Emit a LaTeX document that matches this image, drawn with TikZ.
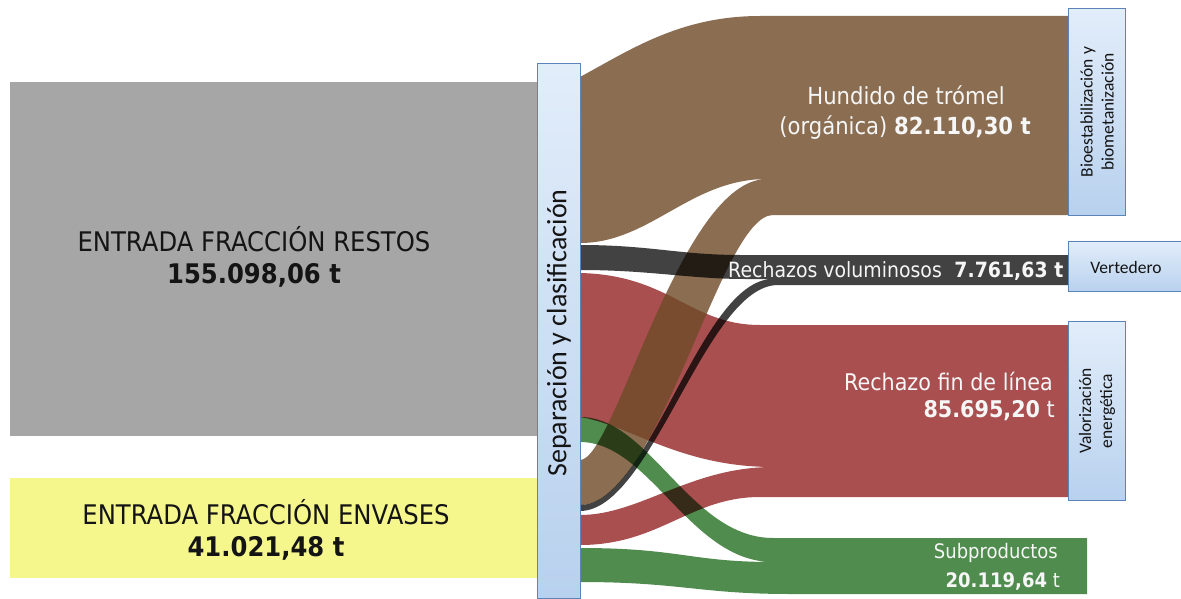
\documentclass[tikz,border=0pt]{standalone}
\usepackage{fontspec}
\setmainfont{Carlito}
\newfontfamily\tah[FakeStretch=0.9]{DejaVu Sans}
\definecolor{restosgray}{RGB}{166,166,166}
\definecolor{envyellow}{RGB}{245,246,140}
\definecolor{brownc}{RGB}{110,74,39}
\definecolor{darkc}{RGB}{66,66,66}
\definecolor{redc}{RGB}{169,79,80}
\definecolor{greenc}{RGB}{80,140,78}
\definecolor{boxtop}{RGB}{226,237,250}
\definecolor{boxbot}{RGB}{184,209,238}
\definecolor{boxline}{RGB}{92,132,186}
\definecolor{labwhite}{RGB}{246,246,246}
\definecolor{txt}{RGB}{20,20,20}
\begin{document}
\begin{tikzpicture}[x=1pt,y=-1pt,
  box/.style={draw=boxline,line width=1.1pt,top color=boxtop,bottom color=boxbot,inner sep=0pt,anchor=north west},
  inbox/.style={fill=#1,inner sep=0pt,anchor=north west},
  lab/.style={inner sep=0pt,text=labwhite},
  dark/.style={inner sep=0pt,text=txt}]
\clip (0,0) rectangle (1181,599);
\fill[white] (0,0) rectangle (1181,599);

% input boxes
\node[inbox=restosgray,minimum width=527pt,minimum height=354pt] (restos) at (10,82) {};
\node[inbox=envyellow,minimum width=527pt,minimum height=100pt] (envases) at (10,478) {};

% flows
% red (rechazo fin de linea)
\fill[redc] (580,273) .. controls (670,275) and (690,325) .. (760,325) -- (1068,325) -- (1068,497) -- (760,497)
  .. controls (690,497) and (660,545) .. (580,545) -- (580,515)
  .. controls (640,515) and (690,467) .. (773,467)
  .. controls (680,467) and (630,425) .. (580,417) -- cycle;
% brown (hundido), semi-transparent over the red
\fill[brownc,fill opacity=0.8] (580,77) .. controls (630,50) and (680,16) .. (760,16) -- (1068,16) -- (1068,215) -- (773,215)
  .. controls (720,215) and (660,505) .. (580,505) -- (580,460)
  .. controls (615,460) and (680,179) .. (767,179)
  .. controls (690,179) and (650,243) .. (580,243) -- cycle;
\begin{scope}[blend mode=multiply]
% dark (rechazos voluminosos)
\fill[darkc] (580,245) .. controls (650,245) and (680,255) .. (740,255) -- (1068,255) -- (1068,285) -- (778,285)
  .. controls (706,285) and (652,511) .. (580,511) -- (580,505)
  .. controls (650,505) and (700,279) .. (773,279) -- (745,279)
  .. controls (690,279) and (650,270) .. (580,270) -- cycle;
% green (subproductos)
\fill[greenc] (580,417) .. controls (650,417) and (690,538) .. (773,538) -- (1087,538) -- (1087,594) -- (790,594)
  .. controls (700,594) and (680,582) .. (580,582) -- (580,548)
  .. controls (680,548) and (690,562) .. (773,562)
  .. controls (690,562) and (650,442) .. (580,442) -- cycle;
\end{scope}

% process bar and destination boxes
\node[box,minimum width=43pt,minimum height=535pt] (sep) at (537,63) {};
\node[box,minimum width=57pt,minimum height=207pt] (bio) at (1068,8) {};
\node[box,minimum width=125pt,minimum height=50pt] (vert) at (1068,241) {};
\node[box,minimum width=57pt,minimum height=179pt] (valo) at (1068,321) {};

% texts
\node[dark,rotate=90,font=\fontsize{28}{28}\selectfont] (sepT) at (559,333) {Separación y clasificación};
\node[dark,rotate=90,align=center,font=\fontsize{17.5}{21}\selectfont] (bioT) at (bio.center) {Bioestabilización y\\biometanización};
\node[dark,font=\fontsize{17.5}{17.5}\selectfont] (vertT) at (1126,267) {Vertedero};
\node[dark,rotate=90,align=center,font=\fontsize{17.5}{21}\selectfont] (valoT) at (valo.center) {Valorización\\energética};

\node[dark,anchor=base,font=\tah\fontsize{27}{27}\selectfont] (restosT) at (254,251) {ENTRADA FRACCIÓN RESTOS};
\node[dark,anchor=base,font=\tah\bfseries\fontsize{27}{27}\selectfont] (restosV) at (254,283) {155.098,06 t};
\node[dark,anchor=base,font=\tah\fontsize{27}{27}\selectfont] (envT) at (266,524) {ENTRADA FRACCIÓN ENVASES};
\node[dark,anchor=base,font=\tah\bfseries\fontsize{27}{27}\selectfont] (envV) at (266,556) {41.021,48 t};

\node[lab,anchor=base,font=\tah\fontsize{23.5}{23.5}\selectfont] (hundT) at (906,105) {Hundido de trómel};
\node[lab,anchor=base,font=\tah\fontsize{23.5}{23.5}\selectfont] (hundV) at (905,135) {(orgánica) \textbf{82.110,30 t}};
\node[lab,anchor=base west,font=\tah\fontsize{21}{21}\selectfont] (rvT) at (728,277) {Rechazos voluminosos\hspace{0.6em}\textbf{7.761,63 t}};
\node[lab,anchor=base east,font=\tah\fontsize{23}{23}\selectfont] (rfT) at (1053,390) {Rechazo fin de línea};
\node[lab,anchor=base east,font=\tah\fontsize{23}{23}\selectfont] (rfV) at (1055,417) {\textbf{85.695,20} t};
\node[lab,anchor=base east,font=\tah\fontsize{20}{20}\selectfont] (sbT) at (1058,558) {Subproductos};
\node[lab,anchor=base east,font=\tah\fontsize{20}{20}\selectfont] (sbV) at (1060,587) {\textbf{20.119,64} t};
\end{tikzpicture}
\end{document}
